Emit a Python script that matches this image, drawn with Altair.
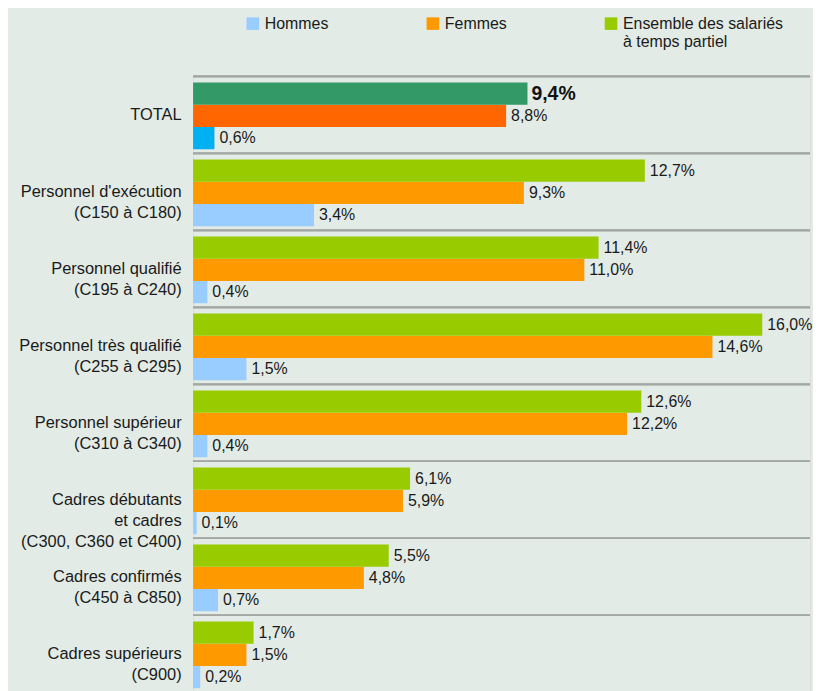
import altair as alt
import pandas as pd

categories = [
    "TOTAL",
    "Personnel d'exécution\n(C150 à C180)",
    "Personnel qualifié\n(C195 à C240)",
    "Personnel très qualifié\n(C255 à C295)",
    "Personnel supérieur\n(C310 à C340)",
    "Cadres débutants\net cadres\n(C300, C360 et C400)",
    "Cadres confirmés\n(C450 à C850)",
    "Cadres supérieurs\n(C900)",
]
series = ["Hommes", "Femmes", "Ensemble des salariés\n\u00a0à temps partiel"]
hommes = [0.6, 3.4, 0.4, 1.5, 0.4, 0.1, 0.7, 0.2]
femmes = [8.8, 9.3, 11.0, 14.6, 12.2, 5.9, 4.8, 1.5]
ensemble = [9.4, 12.7, 11.4, 16.0, 12.6, 6.1, 5.5, 1.7]

colors = ["#99ccff", "#ff9900", "#99cc00"]
total_colors = ["#00b0f0", "#ff6600", "#339966"]

rows = []
for s, vals in zip(series, [hommes, femmes, ensemble]):
    for c, v in zip(categories, vals):
        rows.append({"cat": c, "serie": s, "v": v,
                     "label": f"{v:.1f}".replace(".", ",") + "%"})
df = pd.DataFrame(rows)

W, H = 620, 619
FONT = "Liberation Sans"
TXT = "#1a1a1a"
offset_order = [series[2], series[1], series[0]]

y_enc = alt.Y("cat:N", sort=categories, title=None,
              scale=alt.Scale(paddingInner=0, paddingOuter=0),
              axis=alt.Axis(labelExpr="split(datum.label, '\\n')",
                            labelFontSize=16.5, labelLineHeight=21, labelPadding=12,
                            labelColor=TXT, labelFont=FONT, labelLimit=300,
                            domain=False, ticks=False, grid=False))
yoff = alt.YOffset("serie:N", sort=offset_order,
                   scale=alt.Scale(domain=offset_order, paddingInner=0,
                                   paddingOuter=0.23, align=0.6))
x_enc = alt.X("v:Q", axis=None, scale=alt.Scale(domain=[0, W / 35.75], nice=False))

base = alt.Chart(df)

rules = base.mark_rule(color="#a3a7a4", strokeWidth=1.6).encode(
    y=alt.Y("cat:N", sort=categories, bandPosition=0),
    x=alt.value(0), x2=alt.value(W),
)

legend_label = ("indexof(datum.label, '\\n') >= 0 ? split(datum.label, '\\n') "
                ": [datum.label, '\u00a0']")

bars = base.transform_filter("datum.cat != 'TOTAL'").mark_bar().encode(
    y=y_enc, yOffset=yoff, x=x_enc,
    color=alt.Color("serie:N", scale=alt.Scale(domain=series, range=colors),
                    legend=alt.Legend(title=None, orient="none", legendX=52, legendY=-61,
                                      direction="horizontal", columns=3, columnPadding=96,
                                      symbolType="square", symbolSize=160,
                                      symbolStrokeWidth=0, symbolOpacity=1,
                                      labelFontSize=16, labelFont=FONT, labelColor=TXT,
                                      labelOffset=4, labelLimit=400,
                                      labelExpr=legend_label,
                                      labelBaseline="middle", padding=0)),
)

bars_total = base.transform_filter("datum.cat == 'TOTAL'").mark_bar().encode(
    y=y_enc, yOffset=yoff, x=x_enc,
    color=alt.Color("serie:N", scale=alt.Scale(domain=series, range=total_colors), legend=None),
)

is_bold = f"datum.cat == 'TOTAL' && datum.v == {ensemble[0]}"

labels = base.transform_filter(f"!({is_bold})").mark_text(
    align="left", baseline="middle", dx=5, fontSize=16, font=FONT, color=TXT
).encode(y=y_enc, yOffset=yoff, x=x_enc, text="label:N")

bold = base.transform_filter(is_bold).mark_text(
    align="left", baseline="middle", dx=4, fontSize=19.5, fontWeight="bold",
    font=FONT, color="#111111"
).encode(y=y_enc, yOffset=yoff, x=x_enc, text="label:N")

chart = alt.layer(rules, bars, bars_total, labels, bold).resolve_scale(
    color="independent"
).properties(
    width=W, height=H, background="#e2ebe5",
    padding={"left": 10, "top": 6, "right": 0, "bottom": 0},
).configure_view(stroke=None).configure(font=FONT)

chart.save("out.html", embed_options={"renderer": "svg", "actions": False})
